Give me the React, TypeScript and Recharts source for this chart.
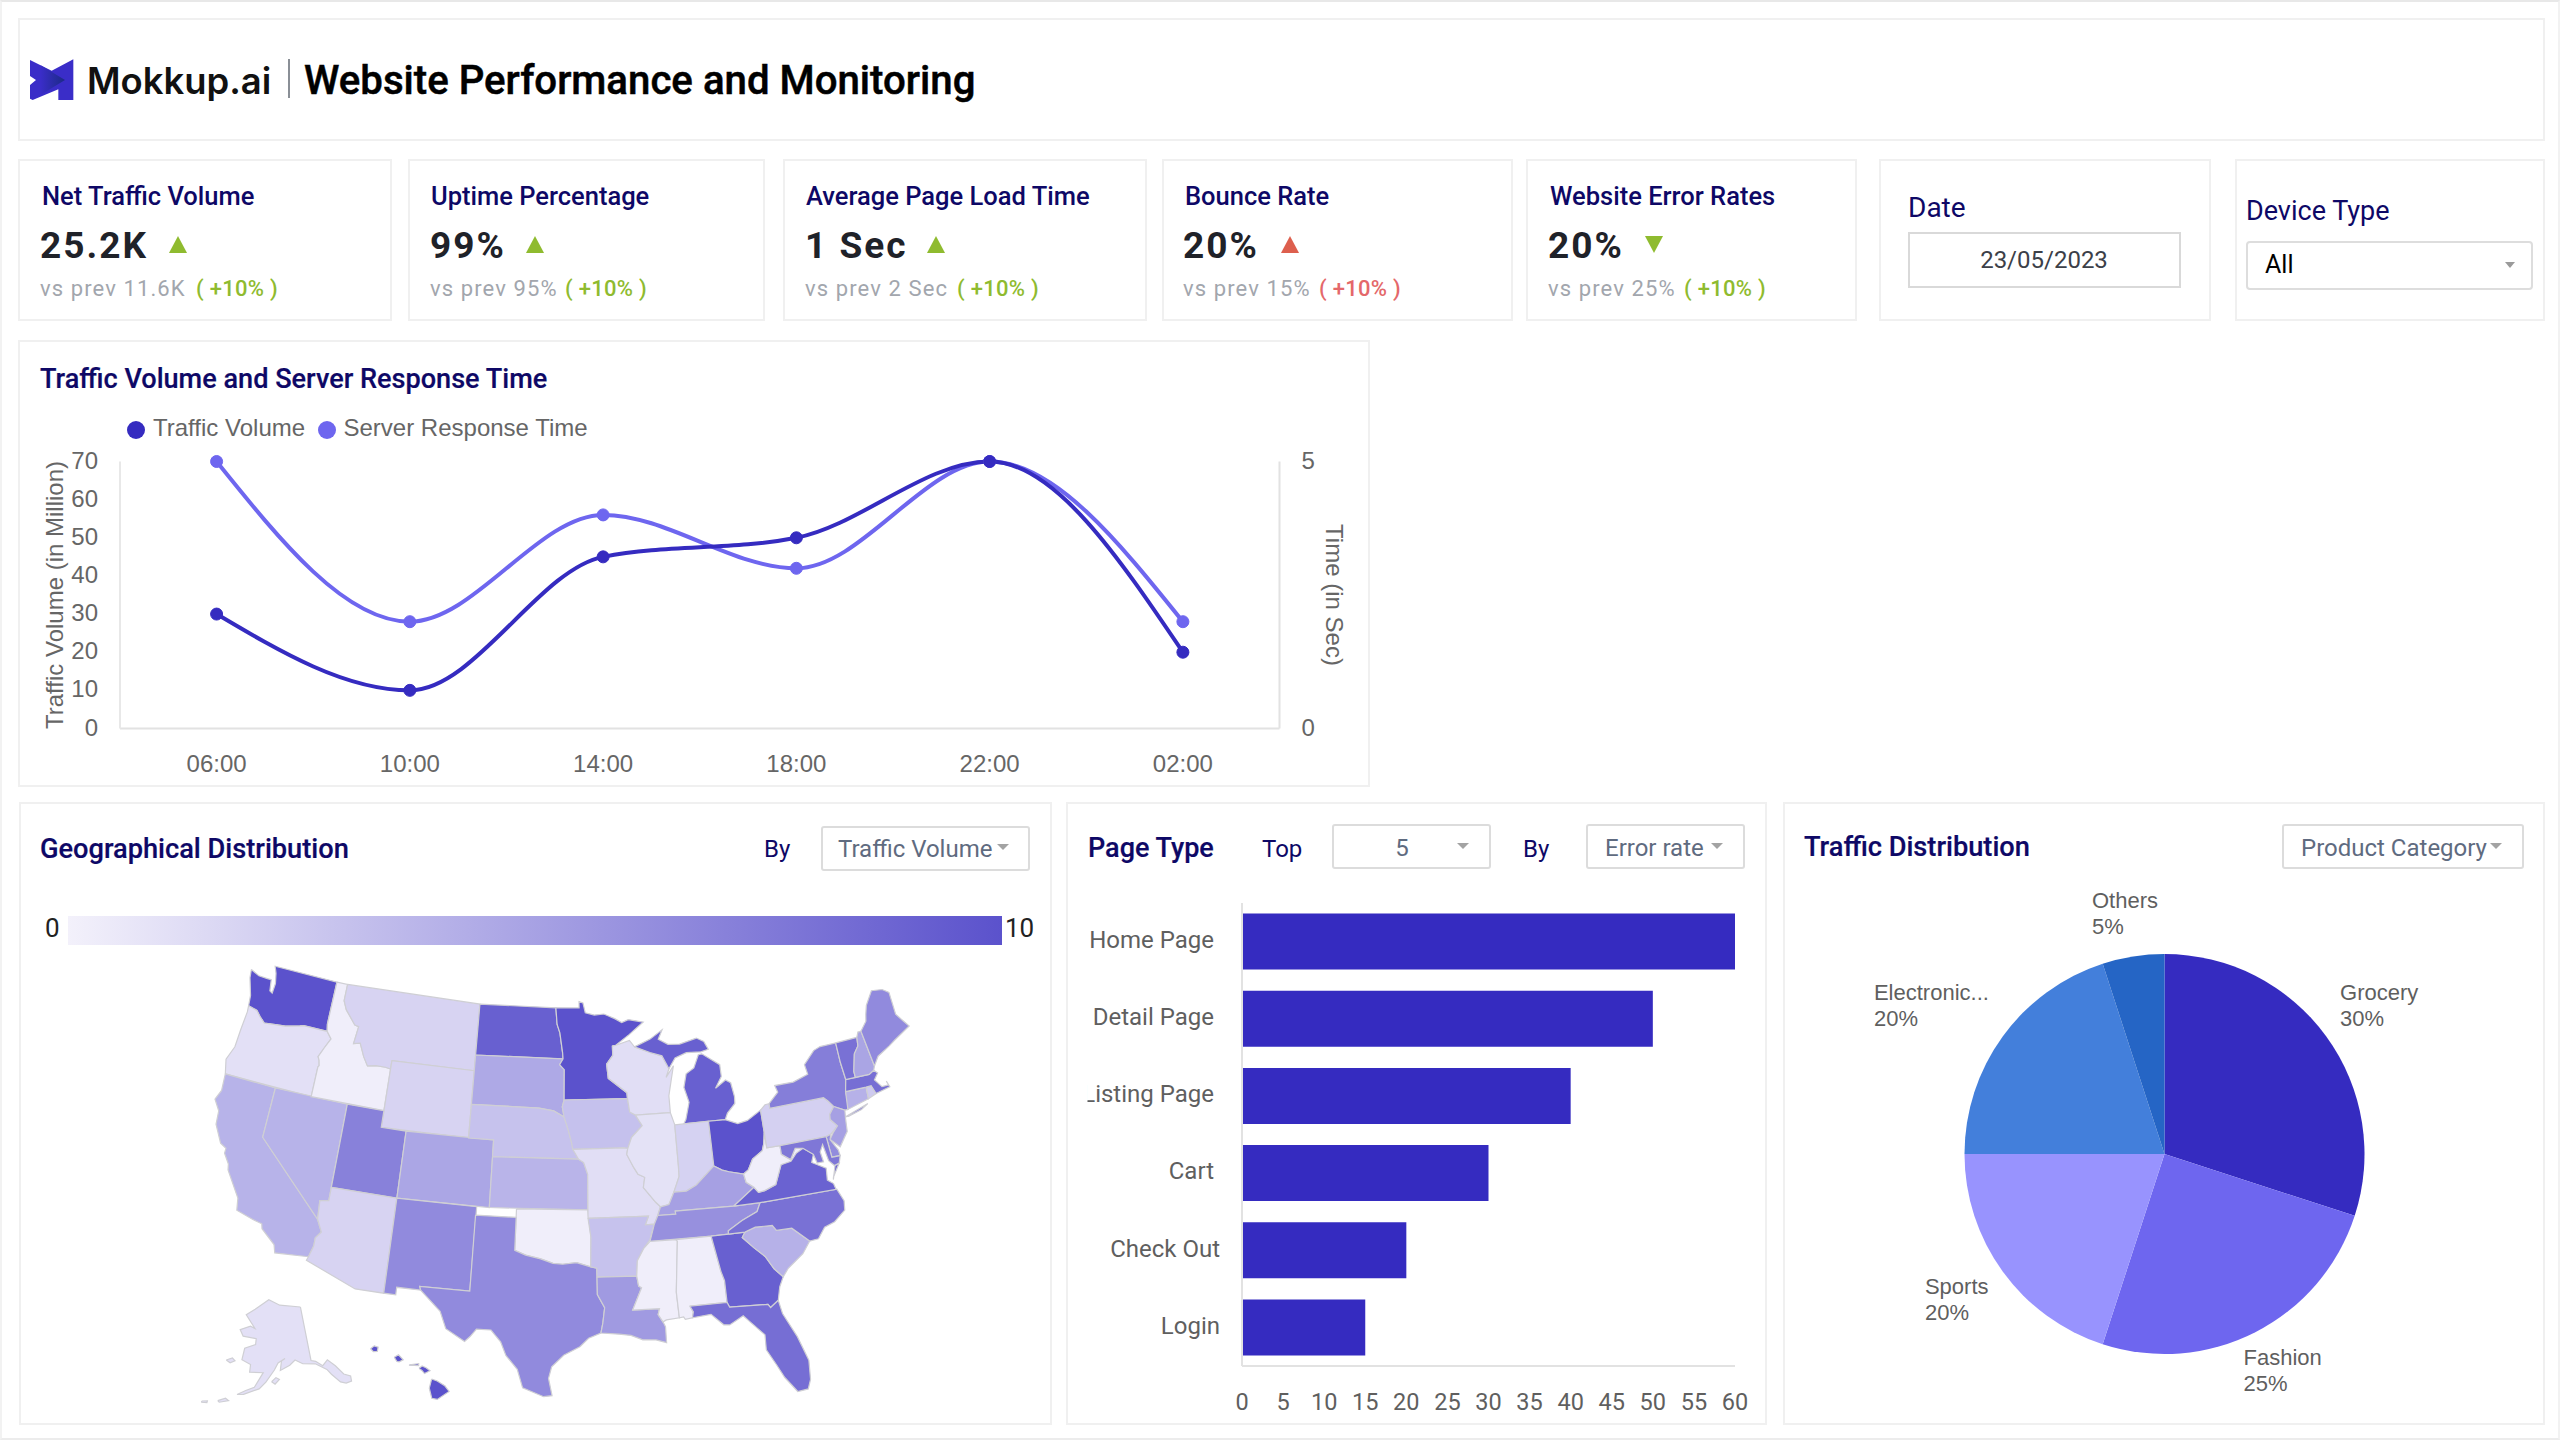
import React from 'react';
import {
  LineChart, Line, XAxis, YAxis, BarChart, Bar, PieChart, Pie, Cell, ScatterChart, Scatter,
} from 'recharts';

// ---------- line chart ----------
const hours = ['06:00', '10:00', '14:00', '18:00', '22:00', '02:00'];
const trafficVolume = [30, 10, 45, 50, 70, 20];
const serverResponse = [5, 2, 4, 3, 5, 2];
const trafficTicks = [0, 10, 20, 30, 40, 50, 60, 70];
const responseTicks = [0, 5];
const lineData = hours.map((h, i) => ({ hour: h, traffic: trafficVolume[i], response: serverResponse[i] }));

// ---------- bar chart ----------
const pageTypes = ['Home Page', 'Detail Page', 'Listing Page', 'Cart', 'Check Out', 'Login'];
const pageErrors = [60, 50, 40, 30, 20, 15];
const errorTicks = [0, 5, 10, 15, 20, 25, 30, 35, 40, 45, 50, 55, 60];
const pageLabelShift = [0, 0, 0, 0, 6, 6];
const barData = pageTypes.map((p, i) => ({ page: p, error: pageErrors[i] }));

// ---------- pie chart ----------
const categories = ['Grocery', 'Fashion', 'Sports', 'Electronic...', 'Others'];
const categoryShare = [30, 25, 20, 20, 5];
const pieColors = ['#352bc0', '#6e66ef', '#9893fe', '#437fdb', '#2565c5'];
const pieLabelDx = [0, -19.5, -64, -115, -38.6];
const pieLabelDy = [-32, 12, 7, -32, -37];
const pieData = categories.map((c, i) => ({ name: c, value: categoryShare[i] }));

// ---------- KPI ----------
const kpiTitles = ['Net Traffic Volume', 'Uptime Percentage', 'Average Page Load Time', 'Bounce Rate', 'Website Error Rates'];
const kpiValues = ['25.2K', '99%', '1 Sec', '20%', '20%'];
const kpiPrev = ['vs prev 11.6K', 'vs prev 95%', 'vs prev 2 Sec', 'vs prev 15%', 'vs prev 25%'];
const kpiDelta = ['( +10% )', '( +10% )', '( +10% )', '( +10% )', '( +10% )'];
const kpiGood = [true, true, true, false, true];
const kpiUp = [true, true, true, true, false];
const kpiCardX = [[18, 392], [408, 765], [783, 1147], [1162, 1513], [1526, 1857]];
const kpiTitleX = [42, 431, 806, 1185, 1550];
const kpiValueX = [40, 430, 805, 1183, 1548];
const kpiArrowX = [178, 535, 936, 1290, 1654];
const kpiDeltaX = [196, 565, 957, 1319, 1684];

// ---------- map: state values on the 0-10 scale ----------
const stateCodes = ['WA','OR','CA','NV','ID','MT','WY','UT','AZ','CO','NM','ND','SD','NE','KS','OK','TX','MN','IA','MO','AR','LA','WI','IL','MI','IN','OH','KY','TN','MS','AL','GA','FL','SC','NC','VA','WV','PA','NY','NJ','DE','MD','CT','RI','MA','VT','NH','ME','AK','HI'];
const stateValues = [10,0.9,3.8,3.8,0,1.7,1.7,7,1.7,4.6,6.4,9.1,4.4,2.8,3.7,0,6.4,10,2.9,1,2.8,5.4,1,0.8,9.1,1.8,10,5,6,0,0,9.1,8.2,3.9,8,9,0,1.9,7.2,5,6.3,7.6,3.9,2.3,8.2,8,4.7,6.4,0.9,10];

// state outlines, as lon,lat vertices; "|" separates the parts of a state
const stateOutlines: Record<string, string> = {
  WA: '-124.7,48.4 -123.9,48.17 -123.1,48.15 -122.75,48.15 -122.6,47.5 -122.35,47.4 -122.3,48.0 -122.5,48.6 -122.75,49 -117.03,49 -117.04,46.42 -116.92,45.99 -118.98,46 -119.3,45.93 -120.5,45.7 -121.2,45.65 -122.3,45.55 -122.8,45.85 -123.2,46.15 -124,46.27 -124.1,46.9 -124.6,47.9',
  OR: '-124,46.27 -123.2,46.15 -122.8,45.85 -122.3,45.55 -121.2,45.65 -120.5,45.7 -119.3,45.93 -118.98,46 -116.92,45.99 -116.46,45.6 -116.85,45 -117.2,44.4 -117.05,44.2 -116.95,43.9 -117.03,43.8 -117.03,42 -124.2,42 -124.5,42.85 -124.1,43.7 -124.05,44.8 -123.95,45.9',
  ID: '-117.03,49 -116.05,49 -116.05,48 -115.7,47.5 -114.7,46.7 -114.35,46.65 -114.5,45.6 -113.95,45.7 -113.45,44.95 -113,44.45 -112.3,44.55 -111.5,44.55 -111.05,44.5 -111.05,42 -117.03,42 -117.03,43.8 -116.95,43.9 -117.05,44.2 -117.2,44.4 -116.85,45 -116.46,45.6 -116.92,45.99 -117.04,46.42',
  MT: '-116.05,49 -104.05,49 -104.05,45 -111.05,45 -111.05,44.5 -111.5,44.55 -112.3,44.55 -113,44.45 -113.45,44.95 -113.95,45.7 -114.5,45.6 -114.35,46.65 -114.7,46.7 -115.7,47.5 -116.05,48',
  WY: '-111.05,45 -104.05,45 -104.05,41 -111.05,41',
  ND: '-104.05,49 -97.23,49 -97.1,48 -96.85,47.5 -96.6,46.3 -96.56,45.94 -104.05,45.94',
  SD: '-104.05,45.94 -96.56,45.94 -96.85,45.6 -96.45,45.3 -96.45,43.5 -96.6,43.1 -96.45,42.5 -97.3,42.85 -98.5,43 -104.05,43',
  NE: '-104.05,43 -98.5,43 -97.3,42.85 -96.45,42.5 -96.1,41.7 -95.85,41 -95.3,40 -102.05,40 -102.05,41 -104.05,41',
  KS: '-102.05,40 -95.3,40 -94.9,39.8 -94.6,39.1 -94.62,37 -102.05,37',
  CO: '-109.05,41 -102.05,41 -102.05,37 -109.05,37',
  UT: '-114.05,42 -111.05,42 -111.05,41 -109.05,41 -109.05,37 -114.05,37',
  NV: '-120,42 -114.05,42 -114.05,36.2 -114.7,36.1 -114.6,35 -120,39',
  CA: '-124.2,42 -120,42 -120,39 -114.6,35 -114.15,34.3 -114.5,33.9 -114.5,33.4 -114.72,32.72 -117.12,32.53 -117.3,33 -118.4,33.75 -118.5,34.03 -119.2,34.15 -120.5,34.45 -120.65,35.15 -121.9,36.6 -122,36.95 -122.5,37.5 -122.5,37.8 -123,38 -123.75,39 -123.85,39.8 -124.4,40.4 -124.1,41',
  AZ: '-114.05,37 -109.05,37 -109.05,31.33 -111.07,31.33 -114.81,32.49 -114.72,32.72 -114.5,33.4 -114.5,33.9 -114.15,34.3 -114.6,35 -114.7,36.1 -114.05,36.2',
  NM: '-109.05,37 -103,37 -103.05,32 -106.6,32 -106.5,31.78 -108.2,31.78 -108.2,31.33 -109.05,31.33',
  TX: '-103.04,36.5 -100,36.5 -100,34.56 -99.2,34.3 -98.1,34.1 -97.2,33.85 -96.5,33.8 -95.5,33.9 -94.48,33.64 -94.04,33.55 -94.04,33.02 -94.04,31.99 -93.55,31.2 -93.7,30.3 -93.85,29.7 -94.7,29.4 -95.3,28.9 -96.4,28.4 -97.2,27.7 -97.4,27 -97.15,25.97 -97.7,25.9 -99.1,26.4 -99.5,27.5 -100.3,28.3 -100.7,29.1 -101.4,29.77 -102.4,29.77 -102.8,29.3 -103.15,28.98 -104.5,29.65 -105,30.65 -106.5,31.78 -106.6,32 -103.05,32',
  OK: '-100,37 -94.62,37 -94.43,35.4 -94.48,33.64 -95.5,33.9 -96.5,33.8 -97.2,33.85 -98.1,34.1 -99.2,34.3 -100,34.56',
  MN: '-97.23,49 -95.15,49 -95.15,49.38 -94.8,49.3 -94.6,48.7 -93.8,48.55 -92.95,48.6 -92,48.3 -91.4,48.05 -90.8,48.2 -89.5,48 -90.8,47.3 -92,46.7 -92.3,46.66 -92.3,46.1 -92.85,45.6 -92.75,44.75 -91.25,43.85 -91.22,43.5 -96.45,43.5 -96.45,45.3 -96.85,45.6 -96.56,45.94 -96.6,46.3 -96.85,47.5 -97.1,48',
  IA: '-96.45,43.5 -91.22,43.5 -91.1,42.7 -90.65,42.5 -90.15,41.85 -91.05,41.2 -91.4,40.55 -91.7,40.6 -95.75,40.58 -95.85,41 -96.1,41.7 -96.45,42.5 -96.6,43.1',
  MO: '-95.75,40.58 -91.7,40.6 -91.4,40.55 -91.5,40.2 -91,39.4 -90.7,39 -90.2,38.8 -90.35,38.2 -89.5,37.3 -89.15,37 -89.4,36.5 -89.7,36 -90.37,36 -90.1,36.5 -94.62,36.5 -94.62,37 -94.6,39.1 -94.9,39.8 -95.3,40',
  AR: '-94.62,36.5 -90.1,36.5 -90.37,36 -89.7,36 -90.1,35.1 -90.6,34.6 -91.1,33.9 -91.2,33 -94.04,33.02 -94.04,33.55 -94.48,33.64 -94.43,35.4',
  LA: '-94.04,33.02 -91.2,33 -91.1,32.4 -90.9,32.3 -91.6,31 -89.73,31 -89.85,30.65 -89.55,30.2 -89.4,29.9 -89.4,28.95 -90.1,29.15 -91,29.2 -91.8,29.5 -92.6,29.6 -93.85,29.7 -93.7,30.3 -93.55,31.2 -94.04,31.99',
  WI: '-92.3,46.66 -92,46.7 -90.8,46.95 -90.4,46.55 -89.1,46.15 -88.1,45.9 -87.6,45.1 -87.9,44.6 -87.2,45.25 -87.5,44.4 -87.8,43.5 -87.8,42.5 -90.65,42.5 -91.1,42.7 -91.22,43.5 -91.25,43.85 -92.75,44.75 -92.85,45.6 -92.3,46.1',
  IL: '-90.65,42.5 -87.8,42.5 -87.53,41.75 -87.53,39.35 -87.55,38.7 -88.05,37.8 -88.5,37.1 -89.15,37 -89.5,37.3 -90.35,38.2 -90.2,38.8 -90.7,39 -91,39.4 -91.5,40.2 -91.4,40.55 -91.05,41.2 -90.15,41.85',
  MI: '-86.8,41.76 -84.8,41.76 -83.45,41.73 -83.2,42.1 -82.5,42.6 -82.45,43 -82.6,43.85 -83,44.05 -83.9,43.65 -83.3,44.3 -83.3,45 -84.7,45.78 -85,45.75 -85.5,45 -86.2,44.7 -86.5,43.9 -86.2,43 -86.6,42|-90.4,46.55 -89.1,46.15 -88.1,45.9 -87.6,45.1 -87,45.7 -86,45.95 -84.75,45.9 -84.1,46 -84.4,46.5 -85,46.75 -86.5,46.5 -87.5,46.55 -88.3,46.9 -87.9,47.45 -89,46.95',
  IN: '-87.53,41.75 -86.8,41.76 -84.8,41.76 -84.8,39.1 -85.4,38.7 -86.3,38.1 -87.1,37.8 -88.05,37.8 -87.55,38.7 -87.53,39.35',
  OH: '-84.8,41.76 -83.45,41.73 -82.5,41.4 -81.7,41.5 -80.52,41.98 -80.52,40.64 -80.7,40 -80.9,39.6 -81.75,39.2 -82.2,38.6 -82.6,38.4 -83.7,38.65 -84.2,38.8 -84.8,39.1',
  KY: '-89.4,36.5 -89.15,37 -88.5,37.1 -88.05,37.8 -87.1,37.8 -86.3,38.1 -85.4,38.7 -84.8,39.1 -84.2,38.8 -83.7,38.65 -82.6,38.4 -82.5,37.9 -81.97,37.54 -83.68,36.6 -88.07,36.68 -88.05,36.5',
  TN: '-90.1,35 -89.7,36 -89.4,36.5 -88.05,36.5 -88.07,36.68 -83.68,36.6 -81.68,36.59 -82,36.1 -83.2,35.7 -84.3,35.2 -84.32,35 -85.6,35',
  MS: '-91.2,33 -91.1,33.9 -90.6,34.6 -90.1,35 -88.2,35 -88.1,34.9 -88.47,31.9 -88.4,30.37 -89.3,30.3 -89.55,30.2 -89.85,30.65 -89.73,31 -91.6,31 -90.9,32.3 -91.1,32.4',
  AL: '-88.2,35 -85.6,35 -85.18,32.87 -85,32.3 -85,31 -87.6,31 -87.4,30.65 -87.5,30.3 -88,30.25 -88.1,30.4 -88.4,30.37 -88.47,31.9 -88.1,34.9',
  GA: '-85.6,35 -84.32,35 -83.1,35 -83.35,34.7 -82.6,34 -81.9,33.4 -81.4,32.6 -80.85,32.05 -81.2,31.5 -81.45,30.72 -82.05,30.36 -82.2,30.57 -84.86,30.7 -85,31 -85,32.3 -85.18,32.87',
  FL: '-87.6,31 -85,31 -84.86,30.7 -82.2,30.57 -82.05,30.36 -81.45,30.72 -81.3,29.9 -80.55,28.4 -80.05,26.9 -80.15,25.75 -80.4,25.2 -81.1,25.15 -81.8,26.1 -82.2,26.9 -82.75,27.9 -82.7,28.8 -83.5,29.6 -84,30.1 -85,29.65 -85.4,29.7 -86.2,30.4 -87.5,30.3 -87.4,30.65',
  SC: '-83.1,35 -82.3,35.2 -81.05,35.15 -80.8,34.82 -79.67,34.8 -78.55,33.87 -79.2,33.2 -80.4,32.5 -80.85,32.05 -81.4,32.6 -81.9,33.4 -82.6,34 -83.35,34.7',
  NC: '-84.32,35 -83.1,35 -82.3,35.2 -81.05,35.15 -80.8,34.82 -79.67,34.8 -78.55,33.87 -77.9,33.9 -77.3,34.5 -76.5,34.7 -75.6,35.25 -75.5,35.8 -75.85,36.55 -81.68,36.59 -82,36.1 -83.2,35.7 -84.3,35.2',
  VA: '-83.68,36.6 -81.97,37.54 -81.68,37.2 -81.2,37.25 -80.3,37.5 -79.65,38.6 -78.85,38.8 -78.35,39.4 -77.75,39.32 -77.05,38.85 -77.3,38.4 -76.3,37.9 -76.4,37.2 -76,36.92 -75.9,36.55 -81.68,36.59|-75.95,37.15 -75.6,37.95 -75.25,38.03 -75.9,37.3',
  WV: '-80.52,40.64 -80.52,39.72 -79.48,39.72 -79.48,39.2 -78.85,38.8 -78.35,39.4 -77.75,39.32 -78.35,39.1 -78.85,38.7 -79.65,38.6 -80.3,37.5 -81.2,37.25 -81.68,37.2 -81.97,37.54 -82.5,37.9 -82.6,38.4 -82.2,38.6 -81.75,39.2 -80.9,39.6 -80.7,40',
  PA: '-80.52,41.98 -80.1,42.25 -79.76,42.27 -79.76,42 -75.35,42 -75.05,41.75 -74.7,41.36 -75.15,40.95 -75.2,40.65 -74.75,40.2 -75.4,39.8 -75.8,39.72 -79.48,39.72 -80.52,39.72',
  NY: '-79.76,42.27 -78.9,42.85 -79.05,43.27 -77.5,43.27 -76.2,43.55 -76.3,44.15 -75.3,44.85 -74.7,45 -73.35,45 -73.35,43.8 -73.25,42.75 -73.5,42.05 -73.5,41.3 -73.65,41 -73.9,41 -74.7,41.36 -75.05,41.75 -75.35,42 -79.76,42|-74,40.6 -72,41.05 -72.6,40.8 -73.7,40.6',
  NJ: '-74.7,41.36 -73.9,41 -74,40.5 -74.1,39.75 -74.9,38.95 -75.55,39.5 -75.2,39.85 -74.75,40.2 -75.2,40.65 -75.15,40.95',
  DE: '-75.8,39.72 -75.4,39.8 -75.55,39.5 -75.1,38.8 -75.05,38.45 -75.7,38.46',
  MD: '-79.48,39.72 -75.8,39.72 -75.7,38.46 -75.05,38.45 -75.25,38.03 -75.65,37.95 -76,38.3 -76.2,39.3 -76.5,38.9 -76.4,38.3 -76.9,38.3 -77.05,38.85 -77.75,39.32 -78.35,39.4 -78.85,38.8 -79.48,39.2',
  CT: '-73.5,42.05 -71.8,42.02 -71.85,41.32 -73.65,41',
  RI: '-71.8,42.02 -71.38,42.02 -71.15,41.5 -71.85,41.32',
  MA: '-73.25,42.75 -71.3,42.7 -70.85,42.87 -70.6,42.65 -71,42.3 -70.55,41.8 -70,41.8 -70.1,42.05 -69.95,41.67 -71.15,41.5 -71.38,42.02 -71.8,42.02 -73.5,42.05',
  VT: '-73.35,45 -71.5,45.01 -71.6,44.5 -72.05,44.1 -72.45,43.1 -72.45,42.73 -73.25,42.75 -73.35,43.8',
  NH: '-71.5,45.01 -71.3,45.3 -71.03,45.3 -70.7,43.1 -70.85,42.87 -71.3,42.7 -72.45,42.73 -72.45,43.1 -72.05,44.1 -71.6,44.5',
  ME: '-71.03,45.3 -70.4,45.8 -70.25,46.2 -70,46.7 -69.23,47.46 -68.3,47.35 -67.8,47.07 -67.8,45.7 -67.45,45.3 -67,44.8 -68.5,44.25 -69.1,44 -70.2,43.6 -70.7,43.1',
  AK: '-141,69.65 -141,60.3 -139.5,60 -137.5,59 -135.5,59.75 -133.5,58.4 -131.8,56.6 -130,55.9 -130.3,55 -132,55 -133.5,55.5 -135.5,57.2 -136.5,58.2 -139.8,59.6 -144,60 -146.5,60.8 -148.5,60 -151.8,59.2 -151.3,60.8 -150,61.2 -152.5,60.5 -153.8,59.3 -156.5,57.2 -158.5,56 -163,54.8 -164.9,54.6 -162.5,55.5 -160,56.2 -157.5,58.8 -162,58.7 -162,60 -165.2,60.6 -164.9,62.6 -161,63.5 -161,64.5 -166.3,64.6 -168,65.6 -164,66.5 -162,66.2 -166.7,68.3 -163,69.5 -156.6,71.35 -151,70.4|-154.7,57.3 -153.3,58 -152.2,57.7 -153.6,56.9|-170.5,60 -168.6,60.6 -167.5,60.2 -169,59.7|-170,52.9 -168,53.6 -167,53.3 -169.5,52.7|-174.3,52.1 -172.8,52.4 -172.8,52.1 -174.2,51.9',
  HI: '-159.78,22.05 -159.55,22.23 -159.3,22.15 -159.35,21.9 -159.6,21.88|-158.27,21.55 -158,21.7 -157.7,21.4 -157.95,21.28 -158.1,21.3|-157.3,21.1 -156.72,21.17 -156.72,21.05 -157.3,21.08|-156.7,20.9 -156.5,21.03 -156.25,20.93 -156,20.75 -156.35,20.58 -156.5,20.75|-155.9,20.25 -155.55,20.13 -155.08,19.85 -154.8,19.5 -155.55,19.03 -155.9,19.1 -156.05,19.7',
};

const toRad = Math.PI / 180;
function albers(lon: number, lat: number, lon0: number, lat0: number, p1: number, p2: number) {
  const n = (Math.sin(p1 * toRad) + Math.sin(p2 * toRad)) / 2;
  const c = Math.cos(p1 * toRad) ** 2 + 2 * n * Math.sin(p1 * toRad);
  const rho0 = Math.sqrt(c - 2 * n * Math.sin(lat0 * toRad)) / n;
  const rho = Math.sqrt(c - 2 * n * Math.sin(lat * toRad)) / n;
  const theta = n * (lon - lon0) * toRad;
  return { x: rho * Math.sin(theta), y: rho0 - rho * Math.cos(theta) };
}
function project(code: string, lon: number, lat: number) {
  if (code === 'AK') {
    const a = albers(lon, lat, -154, 50, 55, 65);
    return { x: a.x * 0.348 - 0.3075, y: a.y * 0.348 - 0.2315 };
  }
  if (code === 'HI') {
    const a = albers(lon, lat, -157, 20, 8, 18);
    return { x: a.x - 0.1615, y: a.y - 0.1888 };
  }
  return albers(lon, lat, -96, 37.5, 29.5, 45.5);
}
const mapLow = [0xf0, 0xee, 0xfa];
const mapHigh = [0x5b, 0x52, 0xcc];
const mapColor = (v: number) => {
  const t = v / 10;
  const c = mapLow.map((l, i) => Math.round(l + (mapHigh[i] - l) * t));
  return `rgb(${c[0]},${c[1]},${c[2]})`;
};
const mapParts = stateCodes.flatMap((code, i) =>
  stateOutlines[code].split('|').map((part, j) => {
    const pts = part.trim().split(/\s+/).map((p) => {
      const [lon, lat] = p.split(',').map(Number);
      return project(code, lon, lat);
    });
    pts.push(pts[0]);
    return { key: `${code}${j}`, pts, color: mapColor(stateValues[i]) };
  }),
);

// map plot frame: scale and origin of the projection in page pixels
const MAP = { left: 150, top: 960, w: 810, h: 450, scale: 962, ox: 569.6, oy: 1201.6 };
const mapXDomain = [(MAP.left - MAP.ox) / MAP.scale, (MAP.left + MAP.w - MAP.ox) / MAP.scale];
const mapYDomain = [(MAP.oy - MAP.top - MAP.h) / MAP.scale, (MAP.oy - MAP.top) / MAP.scale];

// ---------- small helpers ----------
const NAVY = '#0e0866';
const Box = ({ x, y, x2, y2, c = '#f0f0f0', r = 0, w = 2 }: any) => (
  <div style={{ position: 'absolute', left: x, top: y, width: x2 - x, height: y2 - y, boxSizing: 'border-box', border: `${w}px solid ${c}`, borderRadius: r, background: '#fff' }} />
);
const T = ({ x, y, s, c = '#000', w = 400, f = 'Roboto', ls = 0, children, center, bold }: any) => (
  <div style={{ position: 'absolute', left: x, top: y + 1, transform: center ? 'translate(-50%,-50%)' : 'translateY(-50%)', fontFamily: f, fontSize: s, color: c, fontWeight: w, letterSpacing: ls, whiteSpace: 'nowrap', lineHeight: 1.2, WebkitTextStroke: bold ? `${bold}px ${c}` : undefined }}>{children}</div>
);
const Caret = ({ x, y, c = '#a3a3a3', w = 7, h = 7, up = false }: any) => (
  <div style={{ position: 'absolute', left: x - w, top: y - h / 2, width: 0, height: 0, borderLeft: `${w}px solid transparent`, borderRight: `${w}px solid transparent`, [up ? 'borderBottom' : 'borderTop']: `${h}px solid ${c}` }} />
);
const SLATE = '#5f6b80';

const BarTick = (p: any) => {
  const i = p.index;
  return (
    <g>
      <clipPath id={`pageClip${i}`}><rect x={21.5} y={p.y - 20} width={160} height={40} /></clipPath>
      <text clipPath={`url(#pageClip${i})`} x={p.x + pageLabelShift[i]} y={p.y} textAnchor="end" dominantBaseline="middle" fontFamily="Roboto" fontSize={24} fill="#5f5f5f">{p.payload.value}</text>
    </g>
  );
};

const PieLabel = (p: any) => {
  const R = p.outerRadius + 17;
  const rad = -p.midAngle * toRad;
  const x = p.cx + R * Math.cos(rad) + pieLabelDx[p.index];
  const y = p.cy + R * Math.sin(rad) + pieLabelDy[p.index];
  return (
    <text fontFamily="Liberation Sans" fontSize={22} fill="#5f5f5f">
      <tspan x={x} y={y} dominantBaseline="middle">{categories[p.index]}</tspan>
      <tspan x={x} y={y + 26} dominantBaseline="middle">{categoryShare[p.index]}%</tspan>
    </text>
  );
};

export default function App() {
  const axisStyle = { fontFamily: 'Liberation Sans', fontSize: 24, fill: '#666' };
  const yTickStyle = { ...axisStyle, dy: -1.5 };
  return (
    <div style={{ position: 'fixed', left: 0, top: 0, width: 2560, height: 1440, background: '#fff', overflow: 'hidden', boxSizing: 'border-box', borderTop: '2px solid #e8e8e8', borderBottom: '2px solid #ececec', borderLeft: '2px solid #f2f2f2', borderRight: '2px solid #f2f2f2' }}>
      <div style={{ position: 'absolute', left: -2, top: -2, width: 2560, height: 1440 }}>
        {/* header */}
        <Box x={18} y={18} x2={2545} y2={141} />
        <svg style={{ position: 'absolute', left: 20, top: 50 }} width={290} height={60} viewBox="0 0 870 180">
          <defs>
            <linearGradient id="logoArrow" x1="0" x2="1" y1="0" y2="0">
              <stop offset="0" stopColor="#3a2dc8" />
              <stop offset="1" stopColor="#1b2a85" />
            </linearGradient>
          </defs>
          <path d="M30 30 L95 62 L160 28 V150 H115 V118 L38 150 L30 146 V105 L48 90 L30 78 Z" fill="#3a2dc8" />
          <path d="M62 46 L135 90 L62 134 Z" fill="url(#logoArrow)" />
        </svg>
        <T x={87} y={80.5} s={36.4} w={600} f="Inter" c="#111">Mokkup.ai</T>
        <div style={{ position: 'absolute', left: 288, top: 59, width: 1.5, height: 39, background: '#8a8f96' }} />
        <T x={304} y={79.5} s={40.2} w={500} c="#000" bold={0.5}>Website Performance and Monitoring</T>

        {/* KPI cards */}
        {kpiTitles.map((t, i) => {
          const col = kpiGood[i] ? '#8fbb2f' : '#e4686a';
          return (
            <React.Fragment key={t}>
              <Box x={kpiCardX[i][0]} y={159} x2={kpiCardX[i][1]} y2={321} />
              <T x={kpiTitleX[i]} y={195} s={25.5} w={500} c={NAVY}>{t}</T>
              <T x={kpiValueX[i]} y={245} s={37} w={700} c="#1f2229" ls={2}>{kpiValues[i]}</T>
              <Caret x={kpiArrowX[i]} y={244} w={9.5} h={17} up={kpiUp[i]} c={kpiGood[i] ? '#8fbb2f' : '#dd5f4e'} />
              <T x={kpiValueX[i]} y={288} s={22} c="#a2a6ad" ls={1.1}>{kpiPrev[i]}</T>
              <T x={kpiDeltaX[i]} y={288} s={22} w={500} c={col} ls={0.3}>{kpiDelta[i]}</T>
            </React.Fragment>
          );
        })}
        <Box x={1879} y={159} x2={2211} y2={321} />
        <T x={1908} y={207} s={28} c={NAVY}>Date</T>
        <Box x={1908} y={232} x2={2181} y2={288} c="#d9d9d9" />
        <T x={2044} y={259} s={24} c="#3c4048" center>23/05/2023</T>
        <Box x={2235} y={159} x2={2545} y2={321} />
        <T x={2246} y={210} s={27} c={NAVY}>Device Type</T>
        <Box x={2246} y={241} x2={2533} y2={290} c="#dddddd" r={4} />
        <T x={2265} y={264} s={25} c="#000">All</T>
        <Caret x={2510} y={265} w={5.5} h={6} c="#9a9a9a" />

        {/* line chart card */}
        <Box x={18} y={340} x2={1370} y2={787} />
        <T x={40} y={378} s={27.1} w={500} c={NAVY} bold={0.2}>Traffic Volume and Server Response Time</T>
        <div style={{ position: 'absolute', left: 127, top: 420.5, width: 18, height: 18, borderRadius: '50%', background: '#352bc0' }} />
        <T x={153} y={427} s={24} f="Liberation Sans" c="#666">Traffic Volume</T>
        <div style={{ position: 'absolute', left: 317.5, top: 420.5, width: 18, height: 18, borderRadius: '50%', background: '#6e66ef' }} />
        <T x={343.5} y={427} s={24} f="Liberation Sans" c="#666">Server Response Time</T>
        <div style={{ position: 'absolute', left: 18, top: 340 }}>
          <LineChart width={1351} height={447} data={lineData} margin={{ top: 121.5, right: 13.5, bottom: 18.5, left: 26 }}>
            <XAxis dataKey="hour" padding={{ left: 96.6, right: 96.6 }} tickLine={false} tickSize={0} tickMargin={26} height={40} interval={0} axisLine={{ stroke: '#e2e2e2', strokeWidth: 2 }} tick={axisStyle} />
            <YAxis yAxisId="left" domain={[0, 70]} ticks={trafficTicks} interval={0} width={76} tickLine={false} tickSize={0} tickMargin={22} axisLine={{ stroke: '#e8e8e8', strokeWidth: 2 }} tick={yTickStyle}
              label={{ value: 'Traffic Volume (in Million)', angle: -90, position: 'insideLeft', offset: 10, style: { textAnchor: 'middle', fontFamily: 'Liberation Sans', fontSize: 24, fill: '#666' } }} />
            <YAxis yAxisId="right" orientation="right" domain={[0, 5]} ticks={responseTicks} interval={0} width={76} tickLine={false} tickSize={0} tickMargin={22} axisLine={{ stroke: '#e2e2e2', strokeWidth: 2 }} tick={yTickStyle}
              label={{ value: 'Time (in Sec)', angle: 90, position: 'insideRight', offset: 20.5, style: { textAnchor: 'middle', fontFamily: 'Liberation Sans', fontSize: 24, fill: '#666' } }} />
            <Line yAxisId="right" type="monotone" dataKey="response" stroke="#6e66ef" strokeWidth={4} dot={{ r: 6, fill: '#6e66ef', stroke: '#6e66ef', strokeWidth: 1 }} isAnimationActive={false} />
            <Line yAxisId="left" type="monotone" dataKey="traffic" stroke="#352bc0" strokeWidth={4} dot={{ r: 6, fill: '#352bc0', stroke: '#352bc0', strokeWidth: 1 }} isAnimationActive={false} />
          </LineChart>
        </div>

        {/* geo card */}
        <Box x={19} y={802} x2={1052} y2={1425} />
        <T x={40} y={848} s={27.2} w={500} c={NAVY} bold={0.2}>Geographical Distribution</T>
        <T x={764} y={848} s={24} c={NAVY}>By</T>
        <Box x={821} y={826} x2={1030} y2={871} c="#dcdcdc" r={3} />
        <T x={838} y={848} s={24} c={SLATE}>Traffic Volume</T>
        <Caret x={1003} y={847} w={6} h={6} />
        <T x={45} y={928} s={26} c="#222">0</T>
        <div style={{ position: 'absolute', left: 68, top: 916, width: 934, height: 29, background: 'linear-gradient(90deg,#f3f1fb,#5b52cc)' }} />
        <T x={1005} y={928} s={26} c="#222">10</T>
        <div style={{ position: 'absolute', left: MAP.left, top: MAP.top }}>
          <ScatterChart width={MAP.w} height={MAP.h} margin={{ top: 0, right: 0, bottom: 0, left: 0 }}>
            <XAxis hide type="number" dataKey="x" domain={mapXDomain} allowDataOverflow />
            <YAxis hide type="number" dataKey="y" domain={mapYDomain} allowDataOverflow />
            {mapParts.map((s) => (
              <Scatter key={s.key} data={s.pts} line={{ fill: s.color, stroke: '#cfcfd4', strokeWidth: 1.2 }} lineType="joint" lineJointType="linear" shape={() => <g />} isAnimationActive={false} />
            ))}
          </ScatterChart>
        </div>

        {/* page type card */}
        <Box x={1066} y={802} x2={1767} y2={1425} />
        <T x={1088} y={847} s={27} w={500} c={NAVY} bold={0.2}>Page Type</T>
        <T x={1262} y={847.5} s={24} c={NAVY}>Top</T>
        <Box x={1332} y={824} x2={1491} y2={869} c="#dcdcdc" r={3} />
        <T x={1402} y={847} s={24} c={SLATE} center>5</T>
        <Caret x={1463} y={846} w={6} h={6} />
        <T x={1523} y={847.5} s={24} c={NAVY}>By</T>
        <Box x={1586} y={824} x2={1745} y2={869} c="#dcdcdc" r={3} />
        <T x={1605} y={847} s={24} c={SLATE}>Error rate</T>
        <Caret x={1717} y={846} w={6} h={6} />
        <div style={{ position: 'absolute', left: 1066, top: 880 }}>
          <BarChart width={701} height={544} layout="vertical" data={barData} barCategoryGap="13.75%" margin={{ top: 23, right: 32, bottom: 0, left: 0 }}>
            <XAxis type="number" domain={[0, 60]} ticks={errorTicks} interval={0} height={58} tickLine={false} tickSize={0} tickMargin={27} axisLine={{ stroke: '#e2e2e2', strokeWidth: 2 }} tick={{ fontFamily: 'Roboto', fontSize: 23.5, fill: '#5f5f5f' }} />
            <YAxis type="category" dataKey="page" width={176} interval={0} tickLine={false} tickSize={0} tickMargin={28} axisLine={{ stroke: '#e2e2e2', strokeWidth: 2 }} tick={BarTick} />
            <Bar dataKey="error" fill="#352bc0" isAnimationActive={false} />
          </BarChart>
        </div>

        {/* traffic distribution card */}
        <Box x={1783} y={802} x2={2545} y2={1425} />
        <T x={1804} y={846} s={27.2} w={500} c={NAVY} bold={0.2}>Traffic Distribution</T>
        <Box x={2282} y={824} x2={2524} y2={869} c="#dcdcdc" r={3} />
        <T x={2301} y={847} s={24} c={SLATE}>Product Category</T>
        <Caret x={2496} y={846} w={6} h={6} />
        <div style={{ position: 'absolute', left: 1783, top: 802 }}>
          <PieChart width={762} height={622} margin={{ top: 0, right: 0, bottom: 0, left: 0 }}>
            <Pie data={pieData} dataKey="value" nameKey="name" cx={381.5} cy={352} outerRadius={200} startAngle={90} endAngle={-270} stroke="none" label={PieLabel} labelLine={false} isAnimationActive={false}>
              {pieData.map((d, i) => <Cell key={d.name} fill={pieColors[i]} />)}
            </Pie>
          </PieChart>
        </div>
      </div>
    </div>
  );
}
